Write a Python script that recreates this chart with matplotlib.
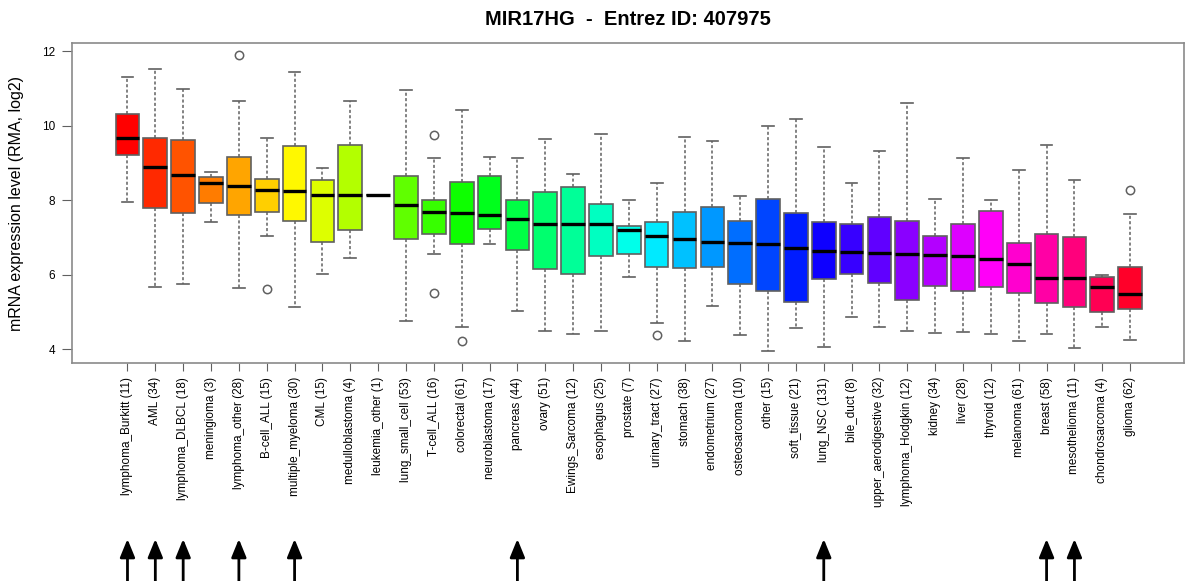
import colorsys
import matplotlib
matplotlib.use('Agg')
import matplotlib.pyplot as plt

# tissue groups, sample counts and box statistics
names = ['lymphoma_Burkitt', 'AML', 'lymphoma_DLBCL', 'meningioma', 'lymphoma_other',
         'B-cell_ALL', 'multiple_myeloma', 'CML', 'medulloblastoma', 'leukemia_other',
         'lung_small_cell', 'T-cell_ALL', 'colorectal', 'neuroblastoma', 'pancreas',
         'ovary', 'Ewings_Sarcoma', 'esophagus', 'prostate', 'urinary_tract',
         'stomach', 'endometrium', 'osteosarcoma', 'other', 'soft_tissue',
         'lung_NSC', 'bile_duct', 'upper_aerodigestive', 'lymphoma_Hodgkin', 'kidney',
         'liver', 'thyroid', 'melanoma', 'breast', 'mesothelioma',
         'chondrosarcoma', 'glioma']
counts = [11, 34, 18, 3, 28, 15, 30, 15, 4, 1, 53, 16, 61, 17, 44, 51, 12, 25, 7, 27,
          38, 27, 10, 15, 21, 131, 8, 32, 12, 34, 28, 12, 61, 58, 11, 4, 62]
whis_hi = [11.31, 11.51, 10.99, 8.77, 10.67, 9.67, 11.44, 8.87, 10.65, 8.13,
           10.97, 9.12, 10.41, 9.15, 9.12, 9.65, 8.70, 9.78, 8.01, 8.45,
           9.71, 9.60, 8.12, 9.98, 10.17, 9.44, 8.46, 9.31, 10.61, 8.02,
           9.14, 8.00, 8.81, 9.47, 8.54, 6.00, 7.63]
q3 = [10.32, 9.67, 9.61, 8.62, 9.15, 8.56, 9.45, 8.53, 9.48, 8.13,
      8.65, 8.01, 8.49, 8.64, 8.00, 8.21, 8.35, 7.90, 7.32, 7.41,
      7.68, 7.81, 7.45, 8.02, 7.67, 7.42, 7.37, 7.56, 7.44, 7.03,
      7.36, 7.71, 6.85, 7.09, 7.02, 5.95, 6.20]
medians = [9.66, 8.88, 8.69, 8.46, 8.39, 8.28, 8.24, 8.13, 8.14, 8.13,
           7.87, 7.69, 7.66, 7.61, 7.50, 7.35, 7.35, 7.35, 7.20, 7.03,
           6.95, 6.88, 6.86, 6.82, 6.71, 6.64, 6.62, 6.57, 6.56, 6.53,
           6.51, 6.41, 6.28, 5.92, 5.91, 5.66, 5.49]
q1 = [9.22, 7.79, 7.65, 7.93, 7.60, 7.68, 7.44, 6.87, 7.20, 8.13,
      6.96, 7.09, 6.83, 7.22, 6.67, 6.15, 6.03, 6.50, 6.55, 6.21,
      6.17, 6.22, 5.74, 5.56, 5.28, 5.89, 6.02, 5.79, 5.32, 5.70,
      5.56, 5.66, 5.51, 5.25, 5.13, 5.01, 5.08]
whis_lo = [7.95, 5.67, 5.74, 7.41, 5.64, 7.05, 5.12, 6.02, 6.45, 8.13,
           4.76, 6.55, 4.59, 6.83, 5.02, 4.48, 4.40, 4.49, 5.93, 4.71,
           4.23, 5.15, 4.37, 3.95, 4.56, 4.05, 4.87, 4.59, 4.49, 4.44,
           4.47, 4.42, 4.21, 4.40, 4.03, 4.60, 4.24]
outliers = {'lymphoma_other': [11.91], 'B-cell_ALL': [5.61],
            'T-cell_ALL': [9.76, 5.50], 'colorectal': [4.21],
            'urinary_tract': [4.37], 'glioma': [8.28]}
# groups marked with an arrow under the chart
marked = ['lymphoma_Burkitt', 'AML', 'lymphoma_DLBCL', 'lymphoma_other',
          'multiple_myeloma', 'pancreas', 'lung_NSC', 'breast', 'mesothelioma']

plt.rcParams['font.family'] = ['Liberation Sans', 'DejaVu Sans']

n = len(names)
positions = list(range(1, n + 1))
stats = []
for i, nm in enumerate(names):
    stats.append(dict(med=medians[i], q1=q1[i], q3=q3[i],
                      whislo=whis_lo[i], whishi=whis_hi[i],
                      fliers=outliers.get(nm, [])))

fig = plt.figure(figsize=(11.85, 5.81), dpi=100)
ax = fig.add_axes([0.0608, 0.3752, 0.9385, 0.5508])

edge = '#606060'
bp = ax.bxp(stats, positions=positions, widths=0.85, capwidths=0.42,
            patch_artist=True, showfliers=True,
            boxprops=dict(edgecolor=edge, linewidth=1.2),
            medianprops=dict(color='black', linewidth=2.4),
            whiskerprops=dict(color=edge, linewidth=1.1, linestyle=(0, (2.0, 1.5))),
            capprops=dict(color=edge, linewidth=1.2),
            flierprops=dict(marker='o', markerfacecolor='none', markeredgecolor=edge,
                            markersize=6, markeredgewidth=1.1))
# rainbow colours, one hue per group
for i, box in enumerate(bp['boxes']):
    box.set_facecolor(colorsys.hsv_to_rgb(i / n, 1, 1))

ax.set_xlim(-0.99, 38.94)
ax.set_ylim(3.63, 12.22)
ax.set_yticks([4, 6, 8, 10, 12])
ax.set_xticks(positions)
ax.set_xticklabels([f'{nm} ({c})' for nm, c in zip(names, counts)], rotation=90,
                   fontsize=8.5)
ax.tick_params(axis='y', labelsize=8.5, length=7.5, color=edge, pad=4.5)
ax.tick_params(axis='x', length=6, color=edge, pad=4)
for s in ax.spines.values():
    s.set_color('#8a8a8a')
    s.set_linewidth(1.2)
ax.set_ylabel('mRNA expression level (RMA, log2)', fontsize=11.5, labelpad=13)
ax.set_title('MIR17HG  -  Entrez ID: 407975', fontsize=14.5, fontweight='bold', pad=13)

for nm in marked:
    x = positions[names.index(nm)]
    ax.annotate('', xy=(x, 1 - 539 / 581), xytext=(x, 0.0),
                xycoords=('data', 'figure fraction'),
                textcoords=('data', 'figure fraction'),
                annotation_clip=False,
                arrowprops=dict(arrowstyle='-|>,head_length=1.1,head_width=0.45',
                                color='black', lw=2, shrinkA=0, shrinkB=0))

fig.savefig('out.png', dpi=100)
